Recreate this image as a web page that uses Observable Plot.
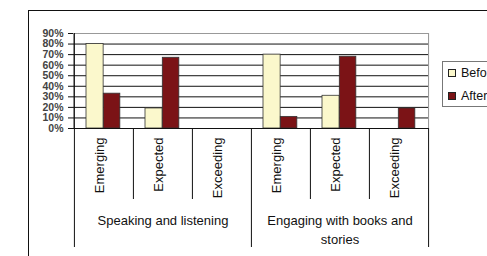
<!DOCTYPE html>
<html>
<head>
<meta charset="utf-8">
<script src="https://cdn.jsdelivr.net/npm/d3@7"></script>
<script src="https://cdn.jsdelivr.net/npm/@observablehq/plot@0.6"></script>
<style>
  html, body { margin: 0; padding: 0; background: #fff; overflow: hidden; width: 487px; height: 256px; }
  #wrap { position: relative; width: 487px; height: 256px; font-family: "Liberation Sans", Arial, sans-serif; }
  #outer { position: absolute; left: 28px; top: 10px; width: 600px; height: 400px; border: 1.3px solid #111; box-sizing: border-box; }
  #chart { position: absolute; left: 0; top: 0; }
  #legend { position: absolute; left: 442px; top: 61px; width: 90px; height: 46px; border: 1px solid #777; box-sizing: border-box; background: #fff; font-size: 12.5px; color: #111; }
  .item { position: absolute; left: 5px; display: flex; align-items: center; white-space: nowrap; }
  .sw { width: 6px; height: 6px; border: 1px solid #222; margin-right: 5px; }
</style>
</head>
<body>
<div id="wrap">
  <div id="outer"></div>
  <div id="chart"></div>
  <div id="legend"></div>
</div>
<script>
const groups = ["Speaking and listening", "Engaging with books and\nstories"];
const levels = ["Emerging", "Expected", "Exceeding"];
const series = ["Before", "After"];
const colors = ["#fbf8cc", "#7b1316"];
const beforeValues = [0.80, 0.19, 0, 0.70, 0.31, 0];
const afterValues = [0.33, 0.67, 0, 0.11, 0.68, 0.19];
const yTicks = [0, 0.1, 0.2, 0.3, 0.4, 0.5, 0.6, 0.7, 0.8, 0.9];

const W = 487, H = 256, mL = 73, mR = 59, mT = 33, mB = 128;
const keys = [];
groups.forEach((g, gi) => levels.forEach(l => keys.push(gi + "|" + l)));
const bw = (W - mL - mR) / keys.length;

const rows = [];
keys.forEach((k, i) => {
  rows.push({key: k, level: k.split("|")[1], series: "Before", value: beforeValues[i]});
  rows.push({key: k, level: k.split("|")[1], series: "After", value: afterValues[i]});
});
const labelRows = keys.map(k => ({key: k, level: k.split("|")[1]}));
const groupRows = groups.map((g, gi) => ({key: gi + "|" + levels[1], label: g}));
const minorKeys = keys.filter(k => k.split("|")[1] !== levels[0]);
const majorKeys = groups.map((g, gi) => gi + "|" + levels[0]);

const chart = Plot.plot({
  width: W, height: H,
  marginLeft: mL, marginRight: mR, marginTop: mT, marginBottom: mB,
  style: {fontFamily: "Liberation Sans, Arial, sans-serif", color: "#222", background: "transparent"},
  x: {type: "band", domain: keys, padding: 0, axis: null},
  y: {domain: [0, 0.9], axis: null},
  marks: [
    Plot.frame({stroke: "#999"}),
    Plot.ruleY(yTicks.filter(t => t < 0.9), {stroke: "#111", strokeWidth: 1}),
    Plot.barY(rows.filter(d => d.series === "Before" && d.value > 0), {x: "key", y: "value", fill: colors[0], stroke: "#333", strokeWidth: 0.8, insetLeft: 12, insetRight: bw - 12 - 17.3}),
    Plot.barY(rows.filter(d => d.series === "After" && d.value > 0), {x: "key", y: "value", fill: colors[1], stroke: "#333", strokeWidth: 0.8, insetLeft: 29.3, insetRight: bw - 29.3 - 16.7}),
    Plot.axisY({ticks: yTicks, tickFormat: d3.format(".0%"), label: null, tickSize: 5, tickPadding: 5, fontSize: 10.5, fontWeight: "bold", fill: "#444", stroke: "#111"}),
    // left axis line
    Plot.ruleX([keys[0]], {x: d => d, dx: -bw / 2, stroke: "#111", insetBottom: -119}),
    // minor dividers
    Plot.ruleX(minorKeys, {x: d => d, dx: -bw / 2, stroke: "#111", insetTop: H - mT - mB, insetBottom: -71}),
    // major dividers
    Plot.ruleX(majorKeys.slice(1), {x: d => d, dx: -bw / 2, stroke: "#111", insetTop: H - mT - mB, insetBottom: -119}),
    Plot.ruleX([keys[keys.length - 1]], {x: d => d, dx: bw / 2, stroke: "#111", insetTop: H - mT - mB, insetBottom: -119}),
    Plot.ruleX([keys[keys.length - 1]], {x: d => d, dx: bw / 2, stroke: "#999", insetBottom: 0}),
    Plot.ruleY([0], {stroke: "#111"}),
    Plot.text(labelRows, {x: "key", text: "level", frameAnchor: "bottom", dy: 9, rotate: -90, textAnchor: "end", fontSize: 13, fill: "#111"}),
    Plot.text(groupRows, {x: "key", text: "label", frameAnchor: "bottom", dy: 84, lineAnchor: "top", lineHeight: 1.4, fontSize: 13, fill: "#111"})
  ]
});
document.getElementById("chart").appendChild(chart);

const legend = document.getElementById("legend");
series.forEach((s, i) => {
  const it = document.createElement("div");
  it.className = "item";
  it.style.top = (i === 0 ? 4 : 27) + "px";
  it.innerHTML = `<span class="sw" style="background:${colors[i]}"></span><span>${s}</span>`;
  legend.appendChild(it);
});
</script>
</body>
</html>
